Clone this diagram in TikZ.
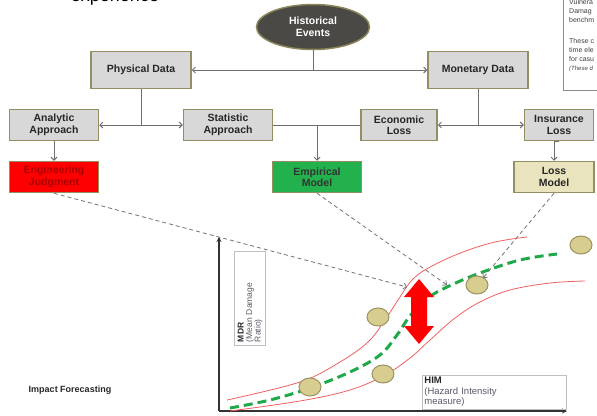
\documentclass[tikz,border=0pt]{standalone}
\usepackage{fontspec}
\setmainfont{Liberation Sans}
\usepackage{tikz}
\usetikzlibrary{shapes.geometric,arrows.meta,positioning}

\definecolor{boxgray}{HTML}{D8D8D8}
\definecolor{boxborder}{HTML}{948F62}
\definecolor{histfill}{HTML}{4A4945}
\definecolor{histborder}{HTML}{8A8458}
\definecolor{engred}{HTML}{FF0000}
\definecolor{engtext}{HTML}{A80000}
\definecolor{empgreen}{HTML}{22B14C}
\definecolor{lossfill}{HTML}{EAE4BE}
\definecolor{linkgray}{HTML}{6E6E6E}
\definecolor{dotfill}{HTML}{D6CD8E}
\definecolor{dotborder}{HTML}{9C9460}
\definecolor{bandred}{HTML}{F06060}
\definecolor{fitgreen}{HTML}{21A84A}
\definecolor{labelgray}{HTML}{5E5866}

\tikzset{
    databox/.style={draw=boxborder, line width=1.5pt, fill=boxgray, text=black!85,
        font=\fontsize{10.5}{11.5}\selectfont\bfseries, align=center, inner sep=1pt},
    link/.style={draw=linkgray, line width=0.9pt},
    pointer/.style={draw=gray!90!black, dash pattern=on 4pt off 3pt, line width=0.8pt,
        -{Straight Barb[length=3pt,width=6pt]}},
    dot/.style={ellipse, draw=dotborder, fill=dotfill, line width=1pt,
        minimum width=22pt, minimum height=18pt, inner sep=0pt},
}

\begin{document}
\begin{tikzpicture}[x=1pt, y=-1pt, >={Straight Barb[length=3pt,width=6pt]}]
    \useasboundingbox (0,0) rectangle (597,415);

    % text cut off at the top
    \node[anchor=base, font=\fontsize{18}{20}\selectfont] (cuttext) at (115,1.5) {experience};

    % note box, cut off at the right
    \node[draw=black!45, line width=0.8pt, anchor=north west, minimum width=60pt,
          minimum height=97pt] (notebox) at (563,-7) {};
    \node[anchor=north west, align=left, text=black!75, inner sep=0pt,
          font=\fontsize{7}{9}\selectfont] (notetext) at (569,-1)
        {Vulnera\\Damag\\benchm\\[12pt]These c\\time ele\\for casu\\{\itshape\fontsize{6}{8}\selectfont (These d}};

    % top of the tree
    \node[ellipse, draw=histborder, line width=1.5pt, fill=histfill, text=white,
          minimum width=113pt, minimum height=45pt, align=center,
          font=\fontsize{10.5}{12}\selectfont\bfseries] (hist) at (313,27) {Historical\\Events};
    \node[databox, minimum width=100pt, minimum height=37pt] (phys) at (141,70) {Physical Data};
    \node[databox, minimum width=100pt, minimum height=37pt] (mon) at (478,70) {Monetary Data};

    % second row
    \node[databox, minimum width=89pt, minimum height=31pt] (ana) at (54,125) {Analytic\\Approach};
    \node[databox, minimum width=89pt, minimum height=31pt] (stat) at (228,125) {Statistic\\Approach};
    \node[databox, minimum width=76pt, minimum height=31pt] (econ) at (399,125) {Economic\\Loss};
    \node[databox, minimum width=69pt, minimum height=31pt] (ins) at (559,125) {Insurance\\Loss};

    % models
    \node[databox, fill=engred, text=engtext, minimum width=89pt, minimum height=31pt] (eng) at (54,177) {Engineering\\Judgment};
    \node[databox, fill=empgreen, text=black!80, minimum width=89pt, minimum height=31pt] (emp) at (317,177) {Empirical\\Model};
    \node[databox, fill=lossfill, minimum width=80pt, minimum height=31pt] (loss) at (554,177) {Loss\\Model};

    % connectors of the tree
    \draw[link] (hist.south) -- (hist.south |- phys.east);
    \draw[link, <->] (phys.east) -- (mon.west);
    \draw[link] (phys.south) -- (phys.south |- ana.east);
    \draw[link, <->] (ana.east) -- (stat.west);
    \draw[link] (mon.south) -- (mon.south |- econ.east);
    \draw[link, <->] (econ.east) -- (ins.west);
    \draw[link] (stat.east) -- (econ.west);
    \draw[link, ->] (emp.north |- stat.east) -- (emp.north);
    \draw[link, ->] (ana.south) -- (eng.north);
    \draw[link, ->] (ins.south) -- (ins.south -| loss.north) -- (loss.north);

    % chart axes
    \coordinate (origin) at (219,411);
    \coordinate (ytop) at (219,237);
    \coordinate (xend) at (567,411);
    \draw[line width=1.2pt, black!80, -{Stealth[length=5pt,width=5pt]}] (origin) -- (ytop);
    \draw[line width=1.2pt, black!80, -{Stealth[length=5pt,width=5pt]}] (origin) -- (xend);

    \node[draw=black!25, line width=0.8pt, rotate=90, text width=88pt, align=left,
          inner sep=3pt, text=labelgray, font=\fontsize{8.5}{8.5}\selectfont] (mdr) at (250,298)
        {{\bfseries\color{black!85}MDR}\\(Mean Damage\\Ratio)};
    \node[draw=black!25, line width=0.8pt, anchor=north west, text width=140pt, align=left,
          inner sep=2pt, text=labelgray, font=\fontsize{9.5}{10.5}\selectfont] (him) at (422,375)
        {{\bfseries\color{black!85}HIM}\\(Hazard Intensity\\measure)};

    \node[font=\fontsize{9}{10}\selectfont\bfseries, text=black!85] (brand) at (70,390) {Impact Forecasting};

    % uncertainty band
    \draw[bandred, line width=0.8pt] plot[smooth, tension=0.6] coordinates
        {(227,400) (300,382) (340,362) (368,342) (385,320) (398,300) (413,279) (432,266) (463,252) (495,242) (527,237)};
    \draw[bandred, line width=0.8pt] plot[smooth, tension=0.6] coordinates
        {(230,411) (300,401) (350,390) (385,375) (410,358) (430,340) (455,318) (480,302) (510,290) (550,283) (585,281)};

    % fitted curve
    \draw[fitgreen, line width=3pt, dash pattern=on 9pt off 5pt] plot[smooth, tension=0.6] coordinates
        {(230,408) (270,400) (310,388) (350,372) (380,355) (397,335) (410,316) (428,298) (447,287) (480,273) (520,260) (557,254)};

    % observations
    \foreach \px/\py [count=\i] in {310/387, 383/374, 378/317, 477/285, 581/245}
        \node[dot] (obs\i) at (\px,\py) {};

    % spread arrow
    \fill[engred] (419,279) -- (434,297) -- (427,297) -- (427,326) -- (434,326) -- (419,344)
        -- (404,326) -- (411,326) -- (411,297) -- (404,297) -- cycle;

    % model pointers
    \coordinate (tipeng) at (407,287);
    \coordinate (tipemp) at (447,285);
    \coordinate (tiploss) at (483,278);
    \draw[pointer] (eng.south) -- (tipeng);
    \draw[pointer] (emp.south) -- (tipemp);
    \draw[pointer] (loss.south) -- (tiploss);
\end{tikzpicture}
\end{document}
